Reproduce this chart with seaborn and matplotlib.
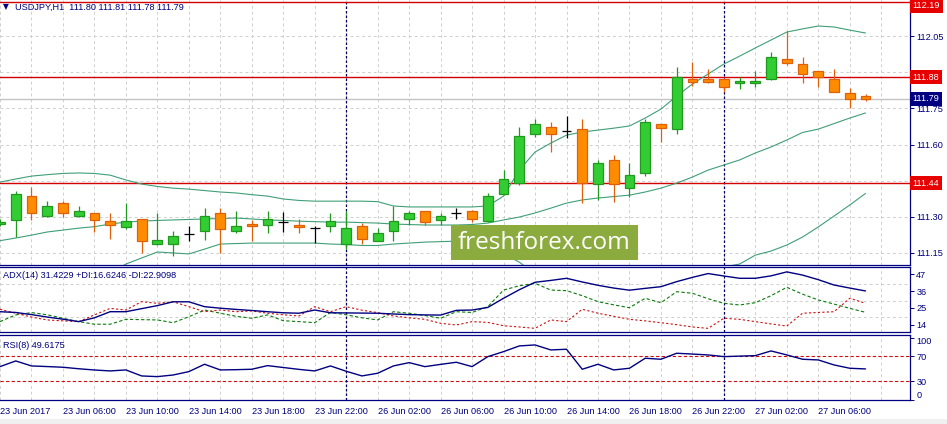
import numpy as np
import pandas as pd
import seaborn as sns
import matplotlib
matplotlib.use('Agg')
import matplotlib.pyplot as plt
import matplotlib.transforms as mtransforms
from matplotlib.patches import Rectangle

# USDJPY H1, one candle per hour, 23 Jun 2017 02:00 -> 27 Jun 09:00
opens = [111.270, 111.288, 111.385, 111.302, 111.356, 111.302, 111.314, 111.283, 111.259, 111.290,
         111.188, 111.188, 111.230, 111.240, 111.315, 111.240, 111.270, 111.268, 111.280, 111.268,
         111.253, 111.260, 111.188, 111.260, 111.200, 111.240, 111.290, 111.323, 111.288, 111.314,
         111.324, 111.281, 111.393, 111.441, 111.642, 111.673, 111.656, 111.663, 111.435, 111.536,
         111.420, 111.483, 111.684, 111.663, 111.872, 111.872, 111.872, 111.854, 111.854, 111.871,
         111.955, 111.933, 111.905, 111.870, 111.812, 111.800]
highs = [111.290, 111.406, 111.425, 111.365, 111.365, 111.345, 111.316, 111.317, 111.358, 111.292,
         111.317, 111.241, 111.262, 111.335, 111.335, 111.323, 111.287, 111.324, 111.318, 111.290,
         111.260, 111.314, 111.324, 111.273, 111.253, 111.345, 111.324, 111.325, 111.314, 111.335,
         111.330, 111.397, 111.494, 111.674, 111.707, 111.693, 111.720, 111.707, 111.536, 111.556,
         111.522, 111.707, 111.686, 111.920, 111.941, 111.913, 111.874, 111.880, 111.905, 111.984,
         112.071, 111.962, 111.907, 111.913, 111.835, 111.810]
lows = [111.260, 111.216, 111.287, 111.300, 111.300, 111.300, 111.238, 111.208, 111.250, 111.151,
        111.185, 111.138, 111.200, 111.202, 111.151, 111.232, 111.200, 111.232, 111.238, 111.232,
        111.190, 111.238, 111.168, 111.187, 111.198, 111.200, 111.265, 111.267, 111.267, 111.290,
        111.280, 111.280, 111.390, 111.432, 111.632, 111.570, 111.626, 111.356, 111.370, 111.363,
        111.383, 111.470, 111.610, 111.642, 111.843, 111.854, 111.819, 111.830, 111.840, 111.869,
        111.930, 111.854, 111.840, 111.818, 111.753, 111.780]
closes = [111.280, 111.393, 111.314, 111.343, 111.314, 111.323, 111.288, 111.267, 111.283, 111.200,
          111.202, 111.219, 111.230, 111.302, 111.250, 111.260, 111.260, 111.290, 111.280, 111.259,
          111.253, 111.283, 111.252, 111.208, 111.231, 111.283, 111.315, 111.280, 111.303, 111.314,
          111.290, 111.386, 111.455, 111.635, 111.684, 111.642, 111.656, 111.441, 111.522, 111.435,
          111.473, 111.693, 111.670, 111.881, 111.861, 111.861, 111.840, 111.864, 111.864, 111.962,
          111.940, 111.891, 111.881, 111.820, 111.790, 111.790]

# Bollinger bands
bb_upper = [111.444, 111.457, 111.469, 111.475, 111.480, 111.482, 111.480, 111.473, 111.453, 111.436,
            111.426, 111.419, 111.415, 111.409, 111.403, 111.399, 111.392, 111.386, 111.374, 111.368,
            111.365, 111.365, 111.365, 111.365, 111.363, 111.345, 111.341, 111.341, 111.341, 111.341,
            111.341, 111.345, 111.386, 111.494, 111.569, 111.606, 111.639, 111.652, 111.660, 111.668,
            111.677, 111.710, 111.747, 111.801, 111.851, 111.893, 111.934, 111.967, 112.001, 112.034,
            112.067, 112.080, 112.092, 112.088, 112.075, 112.063]
bb_mid = [111.201, 111.212, 111.224, 111.237, 111.245, 111.253, 111.259, 111.270, 111.278, 111.282,
          111.285, 111.287, 111.289, 111.291, 111.293, 111.295, 111.291, 111.287, 111.285, 111.282,
          111.280, 111.278, 111.278, 111.276, 111.274, 111.270, 111.268, 111.266, 111.266, 111.266,
          111.268, 111.274, 111.287, 111.299, 111.316, 111.336, 111.357, 111.370, 111.378, 111.384,
          111.390, 111.403, 111.419, 111.440, 111.465, 111.494, 111.515, 111.536, 111.565, 111.590,
          111.619, 111.650, 111.664, 111.687, 111.710, 111.731]
bb_lower = [110.958, 110.967, 110.979, 110.999, 111.010, 111.024, 111.038, 111.067, 111.104, 111.129,
            111.154, 111.150, 111.146, 111.166, 111.187, 111.189, 111.191, 111.191, 111.191, 111.191,
            111.191, 111.187, 111.185, 111.181, 111.181, 111.187, 111.191, 111.195, 111.197, 111.199,
            111.195, 111.179, 111.146, 111.112, 111.063, 111.066, 111.075, 111.085, 111.090, 111.090,
            111.080, 111.080, 111.080, 111.079, 111.079, 111.085, 111.092, 111.104, 111.141, 111.158,
            111.183, 111.216, 111.258, 111.303, 111.349, 111.397]

# ADX(14)
adx = [22.5, 22.0, 20.6, 19.0, 17.6, 16.0, 18.5, 22.5, 22.5, 24.5,
       26.5, 29.0, 29.0, 25.8, 24.8, 24.0, 23.3, 22.5, 21.8, 21.5,
       23.6, 21.8, 21.7, 21.6, 21.5, 21.0, 20.6, 20.4, 20.3, 23.4,
       23.6, 25.3, 31.3, 36.9, 41.8, 43.0, 44.4, 42.0, 39.8, 38.0,
       36.6, 37.8, 38.9, 42.2, 45.0, 47.5, 45.9, 44.4, 44.4, 46.0,
       48.6, 46.5, 43.5, 40.0, 38.0, 36.1]
plus_di = [16.0, 20.4, 21.9, 20.5, 18.2, 16.0, 14.3, 14.3, 17.5, 17.3,
           17.1, 15.3, 19.2, 23.6, 21.5, 19.5, 18.2, 20.4, 16.6, 16.0,
           15.3, 22.0, 20.5, 18.5, 17.1, 22.5, 21.5, 20.0, 18.2, 22.5,
           22.0, 25.8, 36.7, 39.5, 41.1, 36.7, 36.3, 33.0, 29.1, 27.0,
           25.1, 31.3, 28.4, 35.6, 34.6, 31.0, 28.0, 26.9, 28.4, 33.0,
           38.5, 34.0, 30.2, 27.5, 24.7, 22.1]
minus_di = [24.1, 21.5, 19.0, 17.1, 16.5, 16.0, 20.4, 24.7, 23.6, 29.1,
            28.0, 29.0, 25.8, 22.5, 23.6, 22.5, 23.0, 21.5, 20.5, 19.7,
            25.8, 22.5, 25.8, 23.5, 21.9, 19.7, 18.5, 17.5, 14.9, 13.8,
            16.0, 15.5, 13.3, 12.5, 11.6, 17.1, 16.0, 24.1, 21.5, 19.5,
            17.5, 16.5, 15.3, 14.0, 12.5, 11.6, 18.2, 17.5, 16.0, 14.5,
            13.1, 21.5, 22.0, 22.5, 31.3, 28.0]

# RSI(8)
rsi = [53.4, 62.5, 54.5, 53.5, 52.4, 50.0, 48.0, 46.5, 48.1, 38.5,
       37.4, 40.0, 45.4, 57.2, 48.1, 48.5, 49.2, 55.0, 52.0, 49.0,
       46.5, 54.5, 46.0, 38.5, 42.8, 54.5, 59.8, 53.4, 57.0, 60.4,
       53.4, 69.4, 77.4, 86.5, 88.1, 80.1, 81.2, 49.2, 57.2, 48.1,
       50.8, 66.8, 65.2, 74.8, 73.5, 72.1, 69.4, 70.2, 71.0, 78.5,
       72.1, 65.2, 64.1, 56.1, 50.8, 49.7]

time_ticks = [0, 4, 8, 12, 16, 20, 24, 28, 32, 36, 40, 44, 48, 52]
time_labels = ['23 Jun 2017', '23 Jun 06:00', '23 Jun 10:00', '23 Jun 14:00', '23 Jun 18:00',
               '23 Jun 22:00', '26 Jun 02:00', '26 Jun 06:00', '26 Jun 10:00', '26 Jun 14:00',
               '26 Jun 18:00', '26 Jun 22:00', '27 Jun 02:00', '27 Jun 06:00']
day_breaks = [22, 46]
levels = [112.19, 111.88, 111.44]
last_price = 111.79
price_ticks = [112.05, 111.90, 111.75, 111.60, 111.45, 111.30, 111.15]
price_labels = ['112.05', '', '111.75', '111.60', '', '111.30', '111.15']

NAVY = '#000080'
GREEN = '#32cd32'
GREEN_EDGE = '#1f9a1f'
ORANGE = '#ff8c00'
ORANGE_EDGE = '#e0600a'
BAND = '#3f9f78'
RED = '#d40000'
GRID = '#cfcfcf'

sns.set_style('white')
plt.rcParams['font.family'] = ['Liberation Sans', 'DejaVu Sans']

df = pd.DataFrame({'bar': np.arange(len(opens)), 'open': opens, 'high': highs, 'low': lows,
                   'close': closes, 'upper': bb_upper, 'mid': bb_mid, 'lower': bb_lower,
                   'adx': adx, 'pdi': plus_di, 'mdi': minus_di, 'rsi': rsi})

W, H = 947, 424
fig = plt.figure(figsize=(W / 100, H / 100), dpi=100)
fig.patch.set_facecolor('white')


def px_axes(top, bottom):
    return fig.add_axes([0, (H - bottom) / H, 910 / W, (bottom - top) / H])


ax = px_axes(0, 265)
ax_adx = px_axes(267, 332)
ax_rsi = px_axes(335, 400)
XLIM = (0.05, 0.05 + 910 / 15.75)

for a in (ax, ax_adx, ax_rsi):
    a.set_xlim(*XLIM)
    a.set_facecolor('white')
    a.set_xticks(range(0, 58, 2))
    a.grid(True, axis='x', color=GRID, ls=(0, (3, 3)), lw=0.7)
    a.spines['left'].set_visible(False)
    for s in ('right', 'bottom', 'top'):
        a.spines[s].set_color(NAVY)
        a.spines[s].set_linewidth(0.9)
    a.yaxis.tick_right()
    a.tick_params(axis='y', colors=NAVY, labelsize=6.6, length=3, width=0.7, pad=1.5, direction='out')
    a.tick_params(axis='x', length=0, labelbottom=False)
    for d in day_breaks:
        a.axvline(d, color='#00005a', ls=(0, (2, 1.6)), lw=0.9, zorder=2)
ax.spines['top'].set_visible(False)

# ---- main price panel
ax.set_ylim(111.100, 112.200)
ax.set_yticks(price_ticks)
ax.set_yticklabels(price_labels)
ax.grid(True, axis='y', color=GRID, ls=(0, (3, 3)), lw=0.7)

for lvl in levels:
    ax.axhline(lvl, color=RED, lw=1.0, zorder=2)
ax.axhline(last_price, color='#c4c4c4', lw=1.0, zorder=1.5)

for col in ('upper', 'mid', 'lower'):
    sns.lineplot(data=df, x='bar', y=col, ax=ax, color=BAND, lw=0.8, zorder=2.5)

bull = df[df.close > df.open]
bear = df[df.close < df.open]
doji = df[df.close == df.open]
bw = 0.62
ax.vlines(bull.bar, bull.low, bull.high, color=GREEN_EDGE, lw=0.9, zorder=3)
ax.bar(bull.bar, bull.close - bull.open, bottom=bull.open, width=bw,
       color=GREEN, edgecolor=GREEN_EDGE, lw=0.9, zorder=4)
ax.vlines(bear.bar, bear.low, bear.high, color=ORANGE_EDGE, lw=0.9, zorder=3)
ax.bar(bear.bar, bear.open - bear.close, bottom=bear.close, width=bw,
       color=ORANGE, edgecolor=ORANGE_EDGE, lw=0.9, zorder=4)
ax.vlines(doji.bar, doji.low, doji.high, color='black', lw=0.9, zorder=3)
ax.hlines(doji.open, doji.bar - bw / 2, doji.bar + bw / 2, color='black', lw=0.9, zorder=3)
ax.set_xlabel('')
ax.set_ylabel('')

# price labels on the right scale (the top one is kept inside the picture)
trans = mtransforms.blended_transform_factory(ax.transAxes, ax.transData)
top_price = ax.get_ylim()[1]
for lvl in levels:
    near_top = lvl > top_price - 0.02
    ax.text(1.003, top_price - 0.004 if near_top else lvl, f'{lvl:.2f}', transform=trans,
            ha='left', va='top' if near_top else 'center', fontsize=6.6,
            color='white', clip_on=False, zorder=6,
            bbox=dict(boxstyle='square,pad=0.3', fc='#e60000', ec='none'))
ax.text(1.003, last_price, f'{last_price:.2f}', transform=trans, ha='left', va='center', fontsize=6.6,
        color='white', clip_on=False, zorder=6,
        bbox=dict(boxstyle='square,pad=0.3', fc=NAVY, ec='none'))

fig.text(3 / W, 1 - 7 / H, '\u25bc', fontsize=5.5, color=NAVY, va='center', ha='left',
         family=['DejaVu Sans'])
fig.text(15 / W, 1 - 7 / H, 'USDJPY,H1  111.80 111.81 111.78 111.79', fontsize=6.6,
         color=NAVY, va='center', ha='left')

# watermark
fig.add_artist(Rectangle((451 / W, 1 - 260 / H), 187 / W, 35 / H, transform=fig.transFigure,
                         fc='#8cab3e', ec='none', zorder=10))
fig.text(544 / W, 1 - 243 / H, 'freshforex.com', fontsize=17.5, color='white', ha='center',
         va='center', family=['Open Sans', 'DejaVu Sans'], zorder=11)

# ---- ADX panel
ax_adx.set_ylim(9.2, 51.8)
ax_adx.set_yticks([47, 36, 25, 14])
ax_adx.set_yticklabels(['47', '36', '25', '14'])
for g in (40.4, 29.7, 18.8):
    ax_adx.axhline(g, color=GRID, ls=(0, (3, 3)), lw=0.7, zorder=0)
sns.lineplot(data=df, x='bar', y='pdi', ax=ax_adx, color='#0a7a0a', lw=0.8, ls=(0, (3, 2)))
sns.lineplot(data=df, x='bar', y='mdi', ax=ax_adx, color='#cc1010', lw=0.8, ls=(0, (2, 2)))
sns.lineplot(data=df, x='bar', y='adx', ax=ax_adx, color=NAVY, lw=1.0)
ax_adx.set_xlabel('')
ax_adx.set_ylabel('')
ax_adx.text(3 / 910, 1 - 9 / 65, 'ADX(14) 31.4229 +DI:16.6246 -DI:22.9098', transform=ax_adx.transAxes,
            fontsize=6.6, color=NAVY, va='center', ha='left')

# ---- RSI panel
ax_rsi.set_ylim(0, 104)
ax_rsi.set_yticks([100, 70, 30, 0])
ax_rsi.set_yticklabels(['100', '70', '30', '0'])
for lbl in ax_rsi.get_yticklabels():
    if lbl.get_text() == '100':
        lbl.set_va('top')
    if lbl.get_text() == '0':
        lbl.set_va('bottom')
for lv in (70, 30):
    ax_rsi.axhline(lv, color='#cc1010', ls=(0, (3, 2)), lw=0.8, zorder=1)
sns.lineplot(data=df, x='bar', y='rsi', ax=ax_rsi, color=NAVY, lw=1.0)
ax_rsi.set_xlabel('')
ax_rsi.set_ylabel('')
ax_rsi.text(3 / 910, 1 - 10 / 65, 'RSI(8) 49.6175', transform=ax_rsi.transAxes,
            fontsize=6.6, color=NAVY, va='center', ha='left')

# time axis
ax_rsi.set_xticks(time_ticks, minor=False)
ax_rsi.set_xticks(range(0, 58, 2), minor=True)
ax_rsi.grid(True, axis='x', which='both', color=GRID, ls=(0, (3, 3)), lw=0.7)
ax_rsi.set_xticklabels(time_labels)
ax_rsi.tick_params(axis='x', which='major', labelbottom=True, length=3, width=0.7, color=NAVY,
                   labelsize=6.6, labelcolor=NAVY, pad=2)
ax_rsi.tick_params(axis='x', which='minor', length=0)
for lbl in ax_rsi.get_xticklabels():
    lbl.set_ha('left')

fig.add_artist(Rectangle((0, 0), 1, 5 / H, transform=fig.transFigure, fc='#f0f0f0', ec='none'))

plt.savefig('out.png', dpi=100)
